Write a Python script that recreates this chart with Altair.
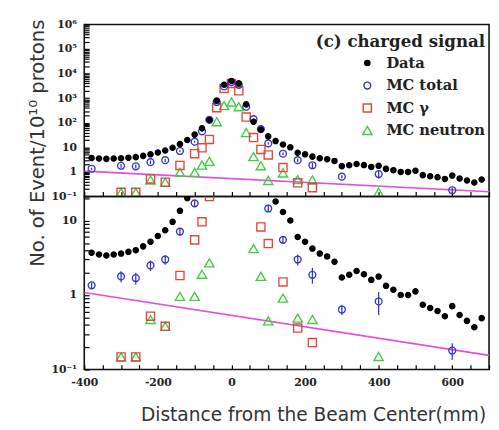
import altair as alt
import pandas as pd

# ---------------- data ----------------
series_order = ["Data", "MC total", "MC γ", "MC neutron"]

data_x = [-380, -360, -340, -320, -300, -280, -260, -240, -220, -200,
          -180, -160, -140, -120, -100, -80, -60, -40, -20, 0,
          20, 40, 60, 80, 100, 120, 140, 160, 180, 200,
          220, 240, 260, 280, 300, 320, 340, 360, 380, 400,
          420, 440, 460, 480, 500, 520, 540, 560, 580, 600,
          620, 640, 660, 680]
data_y = [3.7, 3.5, 3.4, 3.5, 3.6, 3.8, 4.0, 4.5, 5.2, 6.2,
          7.4, 9.6, 13.5, 20, 33, 60, 130, 800, 3500, 5000,
          4000, 560, 110, 53, 28, 18, 13, 10, 6.0, 5.2,
          4.2, 3.6, 3.3, 2.8, 1.72, 1.87, 2.1, 1.9, 1.6, 1.77,
          1.33, 1.18, 1.0, 1.0, 1.12, 0.74, 0.67, 0.61, 0.52, 0.71,
          0.54, 0.45, 0.37, 0.49]

mctot_x = [-380, -300, -260, -220, -180, -140, -100, -80, -60, -40, -20, 0,
           20, 40, 60, 80, 100, 140, 180, 220, 300, 400, 600]
mctot_y = [1.35, 1.78, 1.69, 2.5, 3.0, 7.1, 17, 45, 130, 700, 3000, 4500,
           3500, 450, 140, 55, 14.5, 5.5, 3.0, 1.87, 0.64, 0.82, 0.18]
mctot_err = [0.12, 0.3, 0.3, 0.4, 0.45, 0.6, 1.5, 3, 8, 30, 100, 150,
             120, 25, 8, 4, 1.5, 0.6, 0.5, 0.45, 0.1, 0.28, 0.045]

mcg_x = [-300, -260, -220, -180, -140, -100, -80, -60, -40, -20, 0, 20,
         40, 60, 80, 100, 140, 180, 220]
mcg_y = [0.148, 0.148, 0.52, 0.38, 1.83, 5.5, 9.6, 21, 410, 2500, 4000, 2000,
         170, 25, 8.2, 4.9, 1.5, 0.36, 0.23]

mcn_x = [-300, -260, -220, -180, -140, -100, -80, -60, -40, -20, 0, 20,
         40, 60, 80, 100, 140, 180, 220, 400]
mcn_y = [0.148, 0.148, 0.47, 0.38, 0.96, 0.96, 1.9, 2.7, 110, 500, 700, 450,
         40, 4.2, 1.78, 0.45, 0.91, 0.49, 0.47, 0.15]

fit_x = [-400, 700]
fit_y = [1.08, 0.155]

colors = ["black", "#3636c8", "#e2473d", "#3fcf3f"]
fills = ["black", "transparent", "transparent", "transparent"]
shapes = ["circle", "circle", "square", "triangle-up"]
sizes = [28, 90, 110, 80]

top_labels = ["10⁻¹", "1", "10", "10²", "10³", "10⁴", "10⁵", "10⁶"]
x_tick_values = [-400, -350, -300, -250, -200, -150, -100, -50, 0, 50, 100,
                 150, 200, 250, 300, 350, 400, 450, 500, 550, 600, 650, 700]

# ---------------- tables ----------------
pts = pd.concat([
    pd.DataFrame({"series": "Data", "x": data_x, "y": data_y}),
    pd.DataFrame({"series": "MC total", "x": mctot_x, "y": mctot_y}),
    pd.DataFrame({"series": "MC γ", "x": mcg_x, "y": mcg_y}),
    pd.DataFrame({"series": "MC neutron", "x": mcn_x, "y": mcn_y}),
], ignore_index=True)
pts["order"] = pts["series"].map({s: i for i, s in enumerate(series_order)})

err = pd.DataFrame({"x": mctot_x,
                    "lo": [v - e for v, e in zip(mctot_y, mctot_err)],
                    "hi": [v + e for v, e in zip(mctot_y, mctot_err)]})
fit = pd.DataFrame({"x": fit_x, "y": fit_y})

label_expr = ("abs(log(datum.value)/LN10 - round(log(datum.value)/LN10)) < 0.01 ? "
              + "[" + ",".join("'%s'" % s for s in top_labels) + "][round(log(datum.value)/LN10)+1] : ''")

tick_font = dict(labelFont="DejaVu Serif", labelFontWeight="bold",
                 labelFontSize=11, labelColor="#222")


def panel(ydom, height, yticks, ytitle, xlabels, legend):
    xs = alt.Scale(domain=[-400, 700], nice=False, zero=False)
    ys = alt.Scale(type="log", domain=ydom, nice=False)
    xaxis_kw = dict(values=x_tick_values, tickSize=5, offset={"expr": "-5"},
                    domain=False, grid=False, labelFlush=False, labelOverlap=False,
                    tickColor="black", tickWidth=1.2, **tick_font)
    if xlabels:
        xaxis = alt.Axis(labelExpr="datum.value % 200 == 0 && datum.value < 700 ? '' + datum.value : ''",
                         labelPadding=7,
                         title="Distance from the Beam Center(mm)",
                         titleFont="DejaVu Sans", titleFontSize=19,
                         titleFontWeight="normal", titleColor="#333",
                         titleX=234, titleY=57, titleBaseline="alphabetic",
                         titleAlign="center", **xaxis_kw)
    else:
        xaxis = alt.Axis(labels=False, title=None, **xaxis_kw)
    yaxis_kw = dict(values=yticks, tickSize=5, offset={"expr": "-5"}, domain=False,
                    grid=False, labelExpr=label_expr, labelPadding=8,
                    labelFlush=False, labelOverlap=False, tickColor="black",
                    tickWidth=1.2, **tick_font)
    if ytitle:
        yaxis = alt.Axis(title=ytitle, titleFont="DejaVu Sans", titleFontSize=20,
                         titleFontWeight="normal", titleColor="#333",
                         titleAngle=270, titleX=-47, titleY=121,
                         titleBaseline="alphabetic", titleAlign="center",
                         **yaxis_kw)
    else:
        yaxis = alt.Axis(title=None, **yaxis_kw)

    X = alt.X("x:Q", scale=xs, axis=xaxis)

    line = alt.Chart(fit).mark_line(color="#e04ee0", strokeWidth=1.6, clip=True).encode(
        x=X, y=alt.Y("y:Q", scale=ys, axis=yaxis))
    rules = alt.Chart(err).mark_rule(color=colors[1], strokeWidth=1.3, clip=True).encode(
        x=X, y=alt.Y("lo:Q", scale=ys, axis=yaxis), y2="hi:Q")

    if legend:
        leg = alt.Legend(orient="none", legendX=282, legendY=32, title=None,
                         labelFont="DejaVu Serif", labelFontWeight="bold",
                         labelFontSize=15, labelColor="#222", symbolSize=75,
                         symbolStrokeWidth=1.5, rowPadding=7, labelOffset=12,
                         padding=0)
    else:
        leg = None
    points = alt.Chart(pts).mark_point(filled=False, strokeWidth=1.4, opacity=1,
                                       clip=True).encode(
        x=X,
        y=alt.Y("y:Q", scale=ys, axis=yaxis),
        color=alt.Color("series:N", scale=alt.Scale(domain=series_order, range=colors), legend=leg),
        fill=alt.Fill("series:N", scale=alt.Scale(domain=series_order, range=fills), legend=leg),
        shape=alt.Shape("series:N", scale=alt.Scale(domain=series_order, range=shapes), legend=leg),
        size=alt.Size("series:N", scale=alt.Scale(domain=series_order, range=sizes), legend=None),
        order=alt.Order("order:Q", sort="descending"),
    )
    layers = [line, rules, points]
    if legend:
        label = alt.Chart(pd.DataFrame({"t": ["(c) charged signal"]})).mark_text(
            font="DejaVu Serif", fontWeight="bold", fontSize=17, color="#222",
            align="right", baseline="alphabetic").encode(
            x=alt.value(410), y=alt.value(23), text="t:N")
        layers.append(label)
    return alt.layer(*layers).properties(width=414, height=height)


top_ticks = [m * 10 ** e for e in range(-1, 6) for m in range(1, 10)] + [1e6]
bot_ticks = [m * 10 ** e for e in (-1, 0) for m in range(1, 10)] + [10, 20]

top = panel([0.1, 1e6], 176, top_ticks, "No. of Event/10¹⁰ protons", False, True)
bottom = panel([0.1, 21], 177, bot_ticks, None, True, False)

chart = alt.vconcat(top, bottom, spacing=0, bounds="flush").resolve_scale(
    color="independent", fill="independent", shape="independent", size="independent"
).properties(
    padding={"left": 19, "top": 5, "right": 0, "bottom": 0},
    background="white",
).configure_view(stroke="#111", strokeWidth=1.6)

chart.save("out.html", embed_options={"renderer": "svg", "actions": False})
